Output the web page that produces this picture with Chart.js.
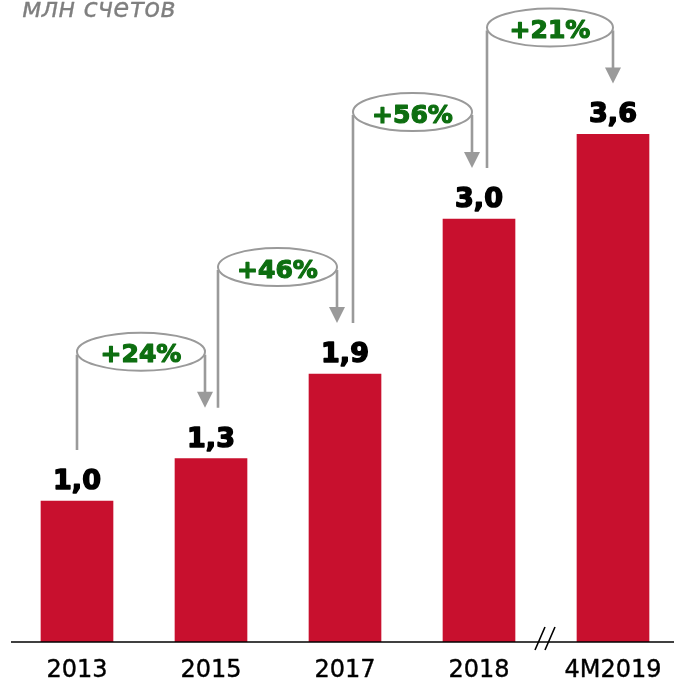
<!DOCTYPE html>
<html>
<head>
<meta charset="utf-8">
<script src="https://cdn.jsdelivr.net/npm/chart.js@4.4.1/dist/chart.umd.min.js"></script>
<style>
    html, body { margin: 0; padding: 0; background: #fff; overflow: hidden; }
    #wrap { position: relative; width: 674px; height: 681px; overflow: hidden; }
    #accountsChart { position: absolute; left: 0; top: 0; }
</style>
</head>
<body>
<div id="wrap">
    <canvas id="accountsChart" width="684" height="681"></canvas>
</div>
<script>
// --- Data ---
const categories = ['2013', '2015', '2017', '2018', '4M2019'];
const accounts = [1.0, 1.3, 1.9, 3.0, 3.6];
const growthLabels = ['+24%', '+46%', '+56%', '+21%'];
const unitLabel = 'млн счетов';

const BAR_COLOR = '#c8102e';
const GREEN = '#0d6e10';
const GREY = '#9a9a9a';

// small x nudges so the connectors don't overlap each other at shared bars
const leftLineShift = [0, 7, 8, 8];
const arrowShift = [-6, -8, -7, 0];

const fmt = v => v.toFixed(1).replace('.', ',');

// fill + thin stroke in the same colour, gives a heavier face
function heavyText(ctx, text, x, y, color, weight) {
    ctx.fillStyle = color;
    ctx.strokeStyle = color;
    ctx.lineWidth = weight;
    ctx.lineJoin = 'round';
    ctx.strokeText(text, x, y);
    ctx.fillText(text, x, y);
}

// --- Overlay: value labels, growth bubbles, year labels, axis ---
const overlayPlugin = {
    id: 'overlay',
    afterDatasetsDraw(chart) {
        const ctx = chart.ctx;
        const x = chart.scales.x;
        const y = chart.scales.y;
        const base = y.getPixelForValue(0);
        const tops = accounts.map(v => y.getPixelForValue(v));
        const cx = categories.map((c, i) => x.getPixelForValue(i));

        ctx.save();

        // values above bars
        ctx.font = 'bold 27px "DejaVu Sans"';
        ctx.textAlign = 'center';
        ctx.textBaseline = 'alphabetic';
        accounts.forEach((v, i) => heavyText(ctx, fmt(v), cx[i], tops[i] - 12, '#000', 1.5));

        // growth connectors
        growthLabels.forEach((lbl, i) => {
            const lx = cx[i] + leftLineShift[i];
            const rx = cx[i + 1] + arrowShift[i];
            const tip = tops[i + 1] - 51;
            const cy = tops[i + 1] - 107;
            const from = tops[i] - 51;

            ctx.strokeStyle = GREY;
            ctx.lineWidth = 2.6;
            ctx.beginPath();
            ctx.moveTo(lx, cy + 3);
            ctx.lineTo(lx, from);
            ctx.moveTo(rx, cy + 3);
            ctx.lineTo(rx, tip - 14);
            ctx.stroke();

            ctx.fillStyle = GREY;
            ctx.beginPath();
            ctx.moveTo(rx - 8, tip - 16);
            ctx.lineTo(rx + 8, tip - 16);
            ctx.lineTo(rx, tip);
            ctx.closePath();
            ctx.fill();

            ctx.fillStyle = '#fff';
            ctx.lineWidth = 2;
            ctx.beginPath();
            ctx.ellipse((lx + rx) / 2, cy, (rx - lx) / 2, 19, 0, 0, Math.PI * 2);
            ctx.fill();
            ctx.stroke();

            ctx.font = 'bold 25px "DejaVu Sans"';
            ctx.textBaseline = 'middle';
            heavyText(ctx, lbl, (lx + rx) / 2, cy + 4, GREEN, 1.2);
            ctx.textBaseline = 'alphabetic';
        });

        // axis line
        ctx.strokeStyle = '#000';
        ctx.lineWidth = 1.5;
        ctx.beginPath();
        ctx.moveTo(11, base);
        ctx.lineTo(chart.width, base);
        ctx.stroke();

        // break marks between 2018 and 4M2019
        const mid = (cx[3] + cx[4]) / 2;
        ctx.lineWidth = 1.6;
        ctx.beginPath();
        [-5, 5].forEach(d => {
            ctx.moveTo(mid + d - 6, base + 8);
            ctx.lineTo(mid + d + 4, base - 15);
        });
        ctx.stroke();

        // year labels
        ctx.font = '24px "DejaVu Sans"';
        ctx.textAlign = 'center';
        categories.forEach((c, i) => heavyText(ctx, c, cx[i], base + 35, '#000', 0.4));

        // unit caption
        ctx.font = 'oblique 26px "DejaVu Sans"';
        ctx.textAlign = 'left';
        heavyText(ctx, unitLabel, 22, 17, '#7f7f7f', 0.3);

        ctx.restore();
    }
};

new Chart(document.getElementById('accountsChart'), {
    type: 'bar',
    data: {
        labels: categories,
        datasets: [{
            data: accounts,
            backgroundColor: BAR_COLOR,
            barThickness: 72,
            borderWidth: 0
        }]
    },
    options: {
        responsive: false,
        animation: false,
        events: [],
        layout: { padding: { left: 10, right: 4, top: 7.5, bottom: 39 } },
        plugins: { legend: { display: false }, tooltip: { enabled: false } },
        scales: {
            x: { display: false },
            y: { display: false, min: 0, max: 4.5 }
        }
    },
    plugins: [overlayPlugin]
});
</script>
</body>
</html>
